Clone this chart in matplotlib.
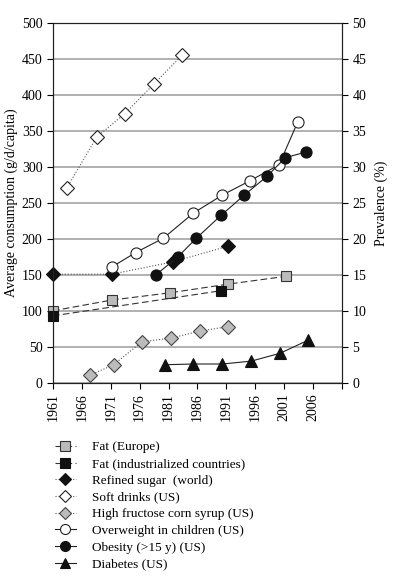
import matplotlib
matplotlib.use("Agg")
import matplotlib.pyplot as plt

plt.rcParams['font.family'] = ['Liberation Serif', 'DejaVu Serif']

# ---- data ----
fat_europe_x = [1961, 1971.2, 1981.2, 1991.2, 2001.3]
fat_europe_y = [100, 115, 125, 137, 148]

fat_ind_x = [1961, 1990.1]
fat_ind_y = [93, 128]

sugar_x = [1961, 1971.2, 1981.7, 1991.3]
sugar_y = [151, 151, 168, 190]

soft_x = [1963.4, 1968.6, 1973.4, 1978.4, 1983.4]
soft_y = [271, 342, 374, 415, 456]

hfcs_x = [1967.4, 1971.5, 1976.4, 1981.4, 1986.5, 1991.3]
hfcs_y = [10.5, 25, 57, 62, 72, 78]

overweight_x = [1971.2, 1975.3, 1980.1, 1985.3, 1990.3, 1995.1, 2000.1, 2003.3]
overweight_y = [16.1, 18.1, 20.1, 23.6, 26.1, 28.1, 30.3, 36.2]

obesity_x = [1978.8, 1982.6, 1985.8, 1990.1, 1994.1, 1998.0, 2001.2, 2004.8]
obesity_y = [15.0, 17.5, 20.1, 23.3, 26.1, 28.7, 31.3, 32.1]

diabetes_x = [1980.3, 1985.3, 1990.3, 1995.3, 2000.3, 2005.1]
diabetes_y = [2.5, 2.6, 2.6, 3.0, 4.1, 5.9]

year_ticks = [1961, 1966, 1971, 1976, 1981, 1986, 1991, 1996, 2001, 2006, 2011]
year_labels = ['1961', '1966', '1971', '1976', '1981', '1986', '1991', '1996', '2001', '2006', '']

labels = ['Fat (Europe)', 'Fat (industrialized countries)', 'Refined sugar  (world)',
          'Soft drinks (US)', 'High fructose corn syrup (US)', 'Overweight in children (US)',
          'Obesity (>15 y) (US)', 'Diabetes (US)']

fig = plt.figure(figsize=(4.01, 5.76), dpi=100)
ax = fig.add_axes([0.132, 0.3356, 0.721, 0.624])
ax2 = ax.twinx()

ax.set_xlim(1961, 2011)
ax.set_ylim(0, 500)
ax2.set_ylim(0, 50)

ax.set_yticks(range(0, 501, 50))
ax2.set_yticks(range(0, 51, 5))
ax.set_xticks(year_ticks)
ax.set_xticklabels(year_labels, rotation=90)

for a in (ax, ax2):
    a.tick_params(direction='out', length=4, width=0.8, labelsize=10, colors='black')
    for s in a.spines.values():
        s.set_linewidth(0.8)
        s.set_color('#222222')
ax.yaxis.grid(True, color='#aaaaaa', linewidth=1.3)
ax.set_axisbelow(True)

lw = 0.8
common = dict(lw=lw, mew=0.8, clip_on=False)
l1, = ax.plot(fat_europe_x, fat_europe_y, linestyle=(0, (6, 3)), color='#333333',
              marker='s', ms=7.5, mfc='#bbbbbb', mec='#333333', **common)
l2, = ax.plot(fat_ind_x, fat_ind_y, linestyle=(0, (6, 3)), color='#333333',
              marker='s', ms=7.5, mfc='#111111', mec='#111111', **common)
l3, = ax.plot(sugar_x, sugar_y, linestyle=':', color='#555555',
              marker='D', ms=7, mfc='#111111', mec='#111111', **common)
l4, = ax.plot(soft_x, soft_y, linestyle=':', color='#555555',
              marker='D', ms=7, mfc='white', mec='#222222', **common)
l5, = ax.plot(hfcs_x, hfcs_y, linestyle=':', color='#555555',
              marker='D', ms=7, mfc='#bbbbbb', mec='#444444', **common)
l6, = ax2.plot(overweight_x, overweight_y, linestyle='-', color='#222222',
               marker='o', ms=8, mfc='white', mec='#222222', **common)
l7, = ax2.plot(obesity_x, obesity_y, linestyle='-', color='#222222',
               marker='o', ms=8, mfc='#111111', mec='#111111', **common)
l8, = ax2.plot(diabetes_x, diabetes_y, linestyle='-', color='#222222',
               marker='^', ms=8, mfc='#111111', mec='#111111', **common)

ax.set_ylabel('Average consumption (g/d/capita)', fontsize=10, labelpad=3)
ax2.set_ylabel('Prevalence (%)', fontsize=10, labelpad=6)

fig.legend([l1, l2, l3, l4, l5, l6, l7, l8], labels, loc='upper left',
           bbox_to_anchor=(0.137, 0.234), frameon=False, fontsize=9.5,
           handlelength=1.6, handletextpad=1.2, labelspacing=0.34, borderpad=0,
           borderaxespad=0, markerscale=0.9)

fig.savefig('out.png', dpi=100)
